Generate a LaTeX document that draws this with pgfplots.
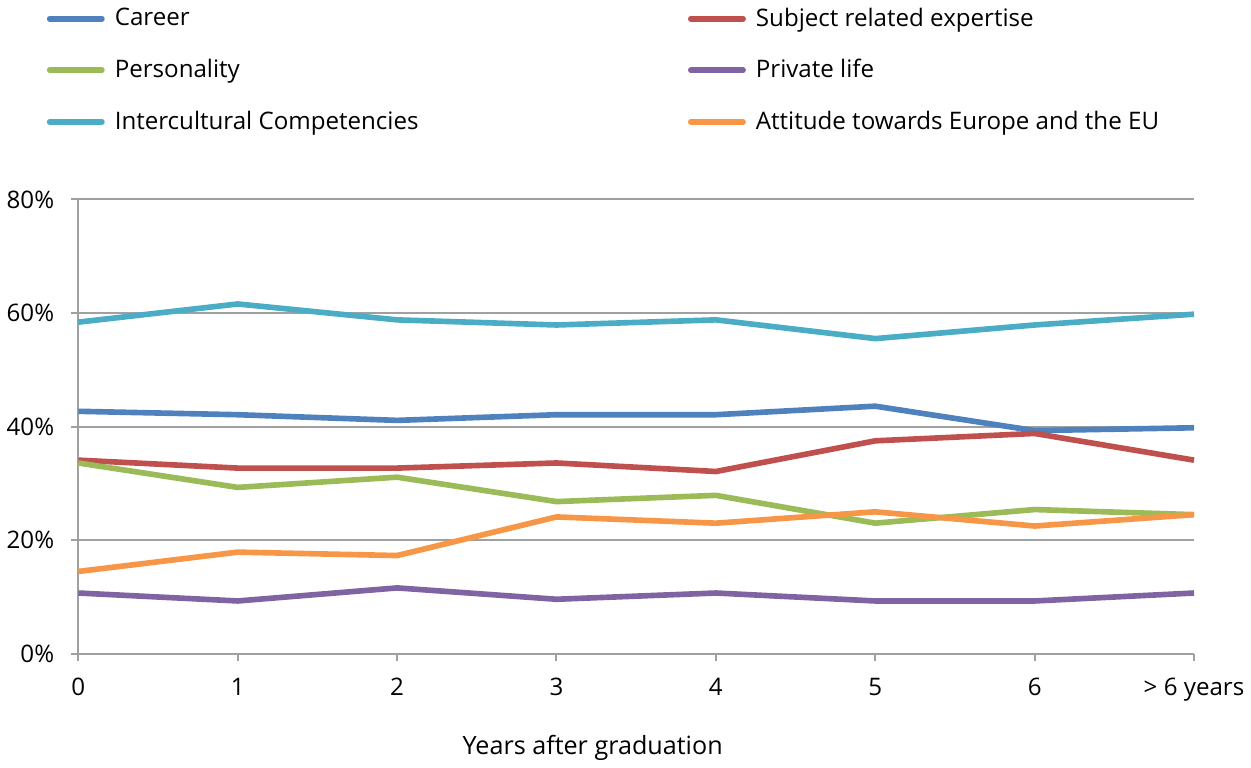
\documentclass[border=0pt]{standalone}
\usepackage{fontspec}
\setmainfont{Open Sans}
\usepackage{pgfplots}
\pgfplotsset{compat=1.18}

\definecolor{career}{HTML}{4F81BD}
\definecolor{subject}{HTML}{C0504D}
\definecolor{person}{HTML}{9BBB59}
\definecolor{private}{HTML}{8064A2}
\definecolor{intercult}{HTML}{4BACC6}
\definecolor{attitude}{HTML}{F79646}
\definecolor{axisgray}{HTML}{A0A0A0}

\begin{document}
\begin{tikzpicture}
\begin{axis}[
    scale only axis,
    width=555pt, height=226pt,
    xmin=0, xmax=7,
    ymin=0, ymax=80,
    xtick={0,1,2,3,4,5,6,7},
    xticklabels={0,1,2,3,4,5,6,{> 6 years}},
    ytick={0,20,40,60,80},
    yticklabel={\pgfmathprintnumber{\tick}\%},
    /pgf/number format/assume math mode=true,
    tick label style={font=\fontsize{12}{14}\selectfont},
    xticklabel style={yshift=-5pt},
    yticklabel style={xshift=-5pt},
    label style={font=\fontsize{12.5}{14}\selectfont},
    axis x line*=bottom,
    axis y line*=left,
    axis line style={axisgray, line width=1pt, -},
    ymajorgrids,
    major grid style={axisgray, line width=1pt},
    tick style={axisgray, line width=1pt},
    major tick length=3.5pt,
    xtick align=outside, ytick align=outside,
    xlabel={Years after graduation},
    xlabel style={at={(rel axis cs:0.461,0)}, anchor=north, yshift=-37pt},
    clip=false,
    legend columns=2,
    legend cell align=left,
    legend style={
        draw=none, fill=none,
        at={(rel axis cs:-0.034,1.44)}, anchor=north west,
        font=\fontsize{12}{14}\selectfont,
        row sep=11pt,
        /tikz/every odd column/.append style={column sep=3pt},
        /tikz/every even column/.append style={column sep=132pt},
    },
    legend image code/.code={
        \draw[#1, line width=2.8pt, line cap=round] (0pt,0pt) -- (26pt,0pt);
    },
    every axis plot/.append style={line width=2.8pt, mark=none},
]
\addplot[career] coordinates {
    (0,42.7) (1,42.1) (2,41.1) (3,42.1) (4,42.1) (5,43.6) (6,39.3) (7,39.8)
};
\addlegendentry{Career}
\addplot[subject] coordinates {
    (0,34.1) (1,32.7) (2,32.7) (3,33.6) (4,32.1) (5,37.5) (6,38.8) (7,34.1)
};
\addlegendentry{Subject related expertise}
\addplot[person] coordinates {
    (0,33.6) (1,29.3) (2,31.1) (3,26.8) (4,27.9) (5,23.0) (6,25.4) (7,24.5)
};
\addlegendentry{Personality}
\addplot[private] coordinates {
    (0,10.7) (1,9.3) (2,11.6) (3,9.6) (4,10.7) (5,9.3) (6,9.3) (7,10.7)
};
\addlegendentry{Private life}
\addplot[intercult] coordinates {
    (0,58.4) (1,61.6) (2,58.8) (3,57.9) (4,58.8) (5,55.5) (6,57.9) (7,59.8)
};
\addlegendentry{Intercultural Competencies}
\addplot[attitude] coordinates {
    (0,14.5) (1,17.9) (2,17.3) (3,24.1) (4,23.0) (5,25.0) (6,22.5) (7,24.5)
};
\addlegendentry{Attitude towards Europe and the EU}
\end{axis}
\end{tikzpicture}
\end{document}
